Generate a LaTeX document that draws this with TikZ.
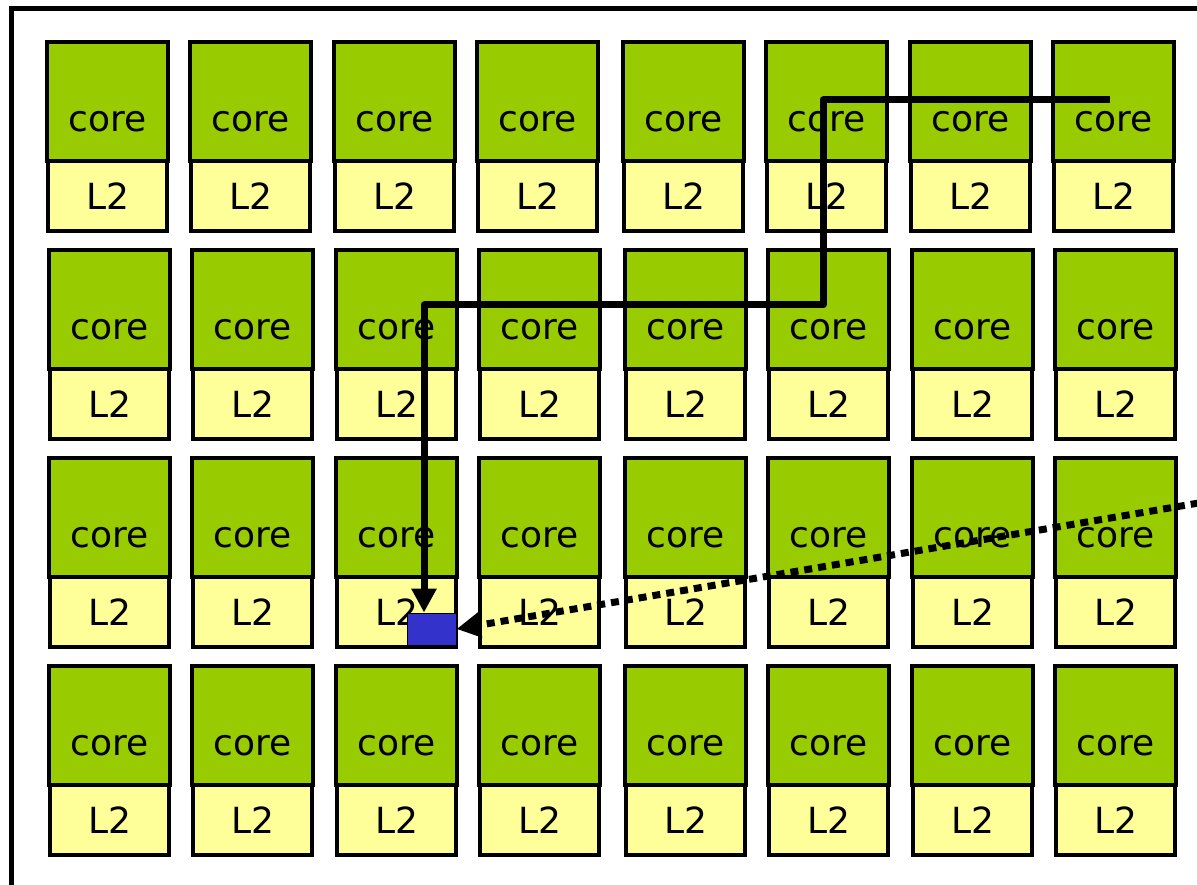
\documentclass[tikz,border=0pt]{standalone}
\usepackage{fontspec}
\setmainfont{DejaVu Sans}
\usetikzlibrary{arrows.meta,calc}
\definecolor{coregreen}{HTML}{99CC00}
\definecolor{lyellow}{HTML}{FFFF99}
\definecolor{blkblue}{HTML}{3333CC}
\begin{document}
\begin{tikzpicture}[x=1pt,y=-1pt,
  corebox/.style={draw=black,line width=4.5pt,fill=coregreen,minimum width=121pt,minimum height=119pt,inner sep=0pt},
  l2box/.style={draw=black,line width=4.5pt,fill=lyellow,minimum width=119pt,minimum height=70pt,inner sep=0pt,font=\fontsize{36}{43}\selectfont},
  coretext/.style={inner sep=0pt,font=\fontsize{36}{43}\selectfont},
  blockbox/.style={draw=black,line width=1pt,fill=blkblue,minimum width=49pt,minimum height=32pt,inner sep=0pt},
  route/.style={line width=7pt,line join=round,-{Triangle[length=24pt,width=24pt]}},
  dotroute/.style={line width=7pt,dash pattern=on 8pt off 6pt,-{Triangle[length=24pt,width=24pt]}},
  frame/.style={line width=5.5pt}]
\useasboundingbox (0,0) rectangle (1197,885);
\clip (0,0) rectangle (1197,885);
\draw[frame] (11.5,8.5) rectangle (1240,920);
\foreach \r/\t/\dx in {1/40/0,2/248/2,3/456/2,4/664/2}{
  \foreach \c/\l in {1/45,2/188,3/332,4/475,5/621,6/764,7/908,8/1051}{
    \node[corebox] (core\r\c) at (\l+\dx+62.5,\t+61.5) {};
    \node[coretext] (coretxt\r\c) at (\l+\dx+62.5,\t+82) {core};
    \node[l2box] (ltwo\r\c) at (\l+\dx+62.5,\t+156) {L2};
  }
}
\node[blockbox] (blk) at (431.5,629) {};
\coordinate (src) at (1110,100);
\coordinate (b1) at (823,100);
\coordinate (b2) at (823,305);
\coordinate (b3) at (424,305);
\draw[route] (src) -- (b1) -- (b2) -- (b3) -- (b3 |- blk.north);
\coordinate (dsrc) at (1240,496);
\draw[dotroute] (dsrc) -- (blk.east);
\end{tikzpicture}
\end{document}
